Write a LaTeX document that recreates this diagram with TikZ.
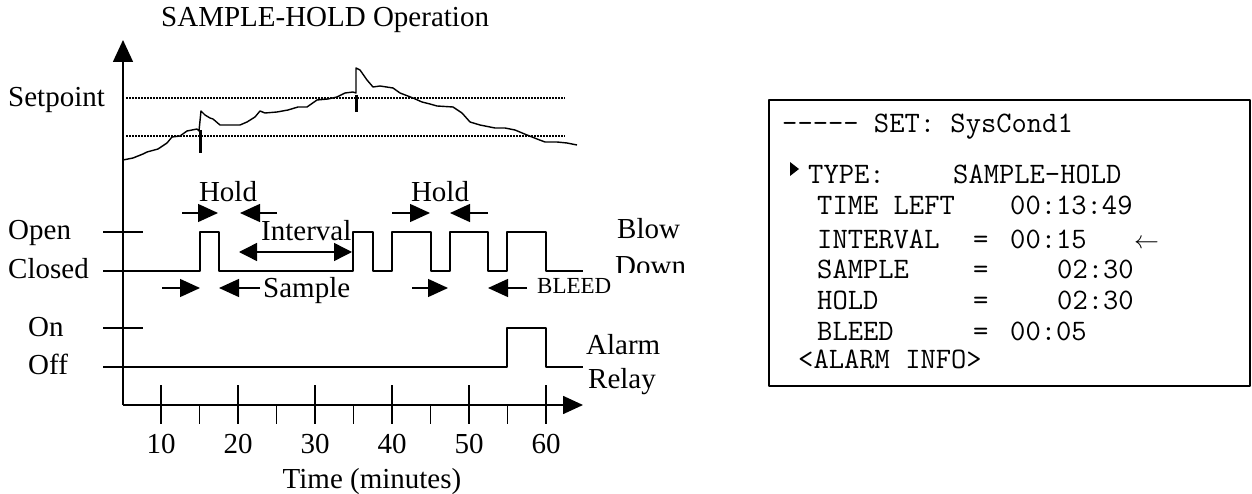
\documentclass[tikz,border=0pt]{standalone}
\usepackage{fontspec}
\setmainfont{Liberation Serif}
\usepackage{tikz}
\usetikzlibrary{positioning, arrows.meta}

\begin{document}
\begin{tikzpicture}[x=1pt, y=-1pt, line join=round,
    lbl/.style={font=\fontsize{29}{34}\selectfont, inner sep=0pt, anchor=base west},
    scr/.style={font=\ttfamily\fontsize{29.7}{34}\selectfont, inner sep=0pt, anchor=base west},
    sig/.style={line width=1.4pt},
    dim/.style={line width=1.4pt, -{Triangle[length=20pt,width=18pt]}}]
      \useasboundingbox (0,0) rectangle (1252,494);

      % chart title
      \node[lbl] (title) at (161,27) {SAMPLE-HOLD Operation};

      % axes
      \draw[line width=1.6pt, -{Triangle[length=22pt,width=20pt]}] (123,405) -- (123,40);
      \draw[line width=1.6pt, -{Triangle[length=20pt,width=18pt]}] (123,405) -- (583,405);
      \foreach \t in {10,20,...,60} {
        \draw[line width=1.3pt] (84+7.7*\t,385) -- (84+7.7*\t,424);
        \node[lbl, anchor=base] (tick\t) at (84+7.7*\t,453) {\t};
      }
      \foreach \t in {15,25,...,55}
        \draw[line width=1.3pt] (84+7.7*\t,405) -- (84+7.7*\t,424);
      \node[lbl, anchor=base] (xlabel) at (372,488) {Time (minutes)};

      % process value
      \node[lbl] (setpoint) at (8,107) {Setpoint};
      \draw[line width=1.2pt, dash pattern=on 1.5pt off 1.5pt] (126,98) -- (565,98);
      \draw[line width=1.2pt, dash pattern=on 1.5pt off 1.5pt] (126,136) -- (565,136);
      \draw[line width=1.4pt] (123,160) -- (133,158) -- (143,154) -- (147,152) -- (158,149)
        -- (167,143) -- (172,137) -- (180,136) -- (187,131) -- (192,130) -- (197,129)
        -- (199,131) -- (201,111) -- (205,115) -- (210,118) -- (213,119) -- (220,125)
        -- (240,125) -- (247,122) -- (255,117) -- (260,111) -- (265,113) -- (277,112)
        -- (288,110) -- (298,107) -- (307,107) -- (317,100) -- (328,99) -- (337,97)
        -- (345,93) -- (353,92) -- (356,93) -- (356,68) -- (360,70) -- (367,80)
        -- (373,87) -- (380,86) -- (393,88) -- (400,93) -- (413,98) -- (422,102)
        -- (430,104) -- (437,106) -- (453,107) -- (462,113) -- (470,122) -- (480,125)
        -- (495,128) -- (505,128) -- (515,130) -- (527,135) -- (537,139) -- (545,142)
        -- (557,142) -- (567,143) -- (577,145);
      \draw[line width=3pt] (200,130) -- (200,153);
      \draw[line width=3pt] (356,95) -- (356,112);

      % blow down valve
      \node[lbl] (open) at (8,240) {Open};
      \node[lbl] (closed) at (8,278) {Closed};
      \draw[sig] (103,232) -- (143,232);
      \draw[sig] (103,271) -- (200,271) -- (200,232) -- (219,232) -- (219,271) -- (353,271)
        -- (353,232) -- (373,232) -- (373,271) -- (392,271) -- (392,232) -- (431,232)
        -- (431,271) -- (450,271) -- (450,232) -- (488,232) -- (488,271) -- (507,271)
        -- (507,232) -- (546,232) -- (546,271) -- (583,271);
      \node[lbl] (blow) at (617,239) {Blow};
      \begin{scope}
        \clip (600,250) rectangle (700,272);
        \node[lbl] (down) at (615,276) {Down};
      \end{scope}

      % timing marks
      \node[lbl, anchor=base] (hold1) at (228,202) {Hold};
      \draw[dim] (182,213) -- (218,213);
      \draw[dim] (277,213) -- (240,213);
      \node[lbl, anchor=base] (hold2) at (440,202) {Hold};
      \draw[dim] (392,213) -- (430,213);
      \draw[dim] (488,213) -- (450,213);
      \node[lbl] (interval) at (261,241) {Interval};
      \draw[line width=1.4pt, {Triangle[length=18pt,width=18pt]}-{Triangle[length=18pt,width=18pt]}] (239,252) -- (352,252);
      \draw[dim] (162,288) -- (200,288);
      \draw[dim] (260,288) -- (219,288);
      \node[lbl] (sample) at (263,298) {Sample};
      \draw[dim] (412,288) -- (448,288);
      \draw[dim] (527,288) -- (488,288);
      \node[lbl, font=\fontsize{23}{27}\selectfont] (bleed) at (537,293) {BLEED};

      % alarm relay
      \node[lbl] (on) at (28,336) {On};
      \node[lbl] (off) at (28,374) {Off};
      \draw[sig] (103,328) -- (143,328);
      \draw[sig] (103,367) -- (507,367) -- (507,328) -- (546,328) -- (546,367) -- (583,367);
      \node[lbl] (alarm) at (586,354) {Alarm};
      \node[lbl] (relay) at (588,388) {Relay};

      % setup screen
      \draw[line width=1.6pt] (769,100) rectangle (1250,386);
      \node[scr] (head) at (782,133) {----- SET: SysCond1};
      \fill (790,162) -- (799,169) -- (790,176) -- cycle;
      \node[scr] (type) at (808,184) {TYPE:};
      \node[scr] (typeval) at (953,184) {SAMPLE-HOLD};
      \node[scr] (left) at (817,215) {TIME LEFT};
      \node[scr] (leftval) at (1010,215) {00:13:49};
      \node[scr] (intv) at (817,249) {INTERVAL};
      \node[scr] (intveq) at (973,249) {=};
      \node[scr] (intvval) at (1010,249) {00:15};
      \node[lbl] (cursor) at (1134,249) {$\leftarrow$};
      \node[scr] (smp) at (817,279) {SAMPLE};
      \node[scr] (smpeq) at (973,279) {=};
      \node[scr] (smpval) at (1057,279) {02:30};
      \node[scr] (hld) at (817,309) {HOLD};
      \node[scr] (hldeq) at (973,309) {=};
      \node[scr] (hldval) at (1057,309) {02:30};
      \node[scr] (bld) at (817,340) {BLEED};
      \node[scr] (bldeq) at (973,340) {=};
      \node[scr] (bldval) at (1010,340) {00:05};
      \node[scr] (alm) at (798,368) {<ALARM INFO>};
\end{tikzpicture}
\end{document}
